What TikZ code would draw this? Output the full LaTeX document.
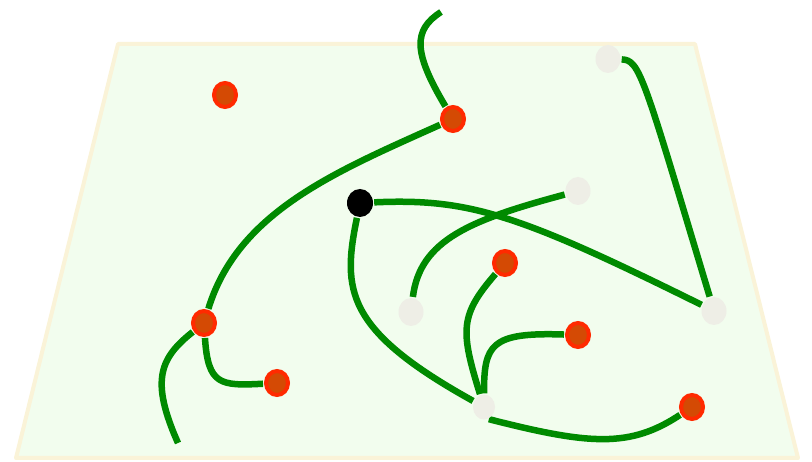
\documentclass[tikz,border=0pt]{standalone}
\usetikzlibrary{shapes.geometric}
\pgfdeclarelayer{bg}
\pgfdeclarelayer{lines}
\pgfsetlayers{bg,lines,main}
\definecolor{fieldfill}{HTML}{F2FDEE}
\definecolor{fieldedge}{HTML}{FAF3D8}
\definecolor{wire}{HTML}{008A00}
\definecolor{redring}{HTML}{FF2A00}
\definecolor{redcore}{HTML}{D44A04}
\definecolor{greydot}{HTML}{EEEEE6}
\tikzset{
  reddot/.style={ellipse, draw=redring, fill=redcore, line width=4pt, minimum width=22pt, minimum height=24pt, inner sep=0pt},
  greyd/.style={ellipse, fill=greydot, minimum width=25pt, minimum height=28pt, inner sep=0pt},
  blackdot/.style={ellipse, fill=black, minimum width=26pt, minimum height=28pt, inner sep=0pt},
  wireline/.style={draw=wire, line width=6.5pt, shorten <=1pt, shorten >=1pt}
}
\begin{document}
\begin{tikzpicture}[x=1pt,y=-1pt]
\useasboundingbox (0,0) rectangle (812,462);
\begin{pgfonlayer}{bg}
\path[fill=fieldfill, draw=fieldedge, line width=4pt, line join=round]
  (118,44) -- (695,44) -- (798,458) -- (16,458) -- cycle;
\end{pgfonlayer}
% dots
\node[reddot] (r1) at (225,95) {};
\node[reddot] (r2) at (453,119) {};
\node[reddot] (r3) at (204,323) {};
\node[reddot] (r4) at (277,383) {};
\node[reddot] (r5) at (505,263) {};
\node[reddot] (r6) at (578,335) {};
\node[reddot] (r7) at (692,407) {};
\node[blackdot] (b1) at (360,203) {};
\node[greyd] (g1) at (608,59) {};
\node[greyd] (g2) at (578,191) {};
\node[greyd] (g3) at (411,312) {};
\node[greyd] (g4) at (714,311) {};
\node[greyd, minimum width=22pt, minimum height=25pt] (g5) at (484,407) {};
\coordinate (topend) at (441,12);
\coordinate (lowend) at (178,443);
\begin{pgfonlayer}{lines}
\draw[wireline, shorten <=0pt] (topend) .. controls (413,30) and (413,52) .. (r2);
\draw[wireline] (r2) .. controls (335,172) and (238,212) .. (r3);
\draw[wireline, shorten >=0pt] (r3) .. controls (160,358) and (150,380) .. (lowend);
\draw[wireline] (r3) .. controls (208,385) and (220,386) .. (r4);
\draw[wireline] (b1) .. controls (470,198) and (520,215) .. (g4);
\draw[wireline] (b1) .. controls (342,290) and (345,330) .. (g5);
\draw[wireline] (g2) .. controls (470,220) and (420,240) .. (g3);
\draw[wireline] (r5) .. controls (460,315) and (460,330) .. (g5);
\draw[wireline] (r6) .. controls (490,332) and (484,345) .. (g5);
\draw[wireline] (g5.-72) .. controls (590,445) and (630,448) .. (r7);
\draw[wireline] (g1) .. controls (640,60) and (643,75) .. (g4);
\end{pgfonlayer}
\end{tikzpicture}
\end{document}
